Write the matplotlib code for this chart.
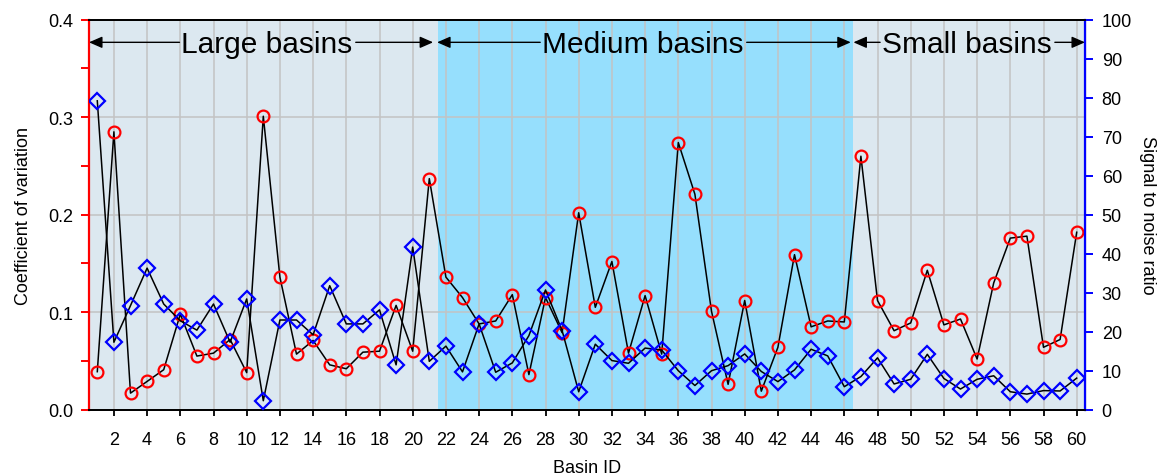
import matplotlib

matplotlib.use("Agg")

import matplotlib.pyplot as plt
from matplotlib.ticker import MultipleLocator

plt.rcParams["font.family"] = ["Liberation Sans", "DejaVu Sans"]

BASIN_ID = list(range(1, 61))
# Coefficient of variation per basin (left axis)
CV = [
    0.039, 0.285, 0.017, 0.029, 0.041, 0.098, 0.055, 0.058, 0.072, 0.038,
    0.301, 0.136, 0.057, 0.071, 0.046, 0.042, 0.059, 0.060, 0.107, 0.060,
    0.237, 0.136, 0.115, 0.088, 0.091, 0.118, 0.036, 0.115, 0.079, 0.202,
    0.105, 0.152, 0.058, 0.117, 0.057, 0.274, 0.221, 0.101, 0.026, 0.112,
    0.019, 0.064, 0.159, 0.085, 0.091, 0.090, 0.260, 0.112, 0.081, 0.089,
    0.143, 0.087, 0.093, 0.052, 0.130, 0.176, 0.178, 0.064, 0.072, 0.182,
]
# Signal to noise ratio per basin (right axis)
SNR = [
    79.2, 17.3, 26.7, 36.3, 27.1, 22.8, 20.4, 27.1, 17.3, 28.4,
    2.3, 23.0, 23.0, 19.2, 31.8, 22.0, 22.0, 25.6, 11.5, 41.7,
    12.4, 16.3, 9.7, 22.0, 9.6, 12.0, 19.0, 30.7, 20.3, 4.6,
    16.8, 12.6, 11.9, 15.8, 15.3, 10.0, 6.2, 10.0, 11.3, 14.3,
    9.8, 7.2, 10.2, 15.5, 13.8, 5.9, 8.5, 13.3, 6.6, 7.8,
    14.2, 8.0, 5.3, 7.8, 8.7, 4.6, 4.0, 4.9, 4.8, 8.1,
]
GROUP_LABELS = ["Large basins", "Medium basins", "Small basins"]
GROUP_SPANS = [(0.5, 21.5), (21.5, 46.5), (46.5, 60.5)]

# banner layout: arrow extents and label centres along the basin axis
ARROW_SPANS = [(0.5, 21.23), (21.47, 46.39), (46.55, 60.5)]
LABEL_X = [11.23, 33.87, 53.39]
PALE, BRIGHT = "#dce8f0", "#96dffd"
GROUP_COLORS = [PALE, BRIGHT, PALE]

fig = plt.figure(figsize=(11.61, 4.77), dpi=100)
ax = fig.add_axes([89 / 1161, 1 - 410.7 / 477, 996 / 1161, 390 / 477])
ax2 = ax.twinx()

for span, color in zip(GROUP_SPANS, GROUP_COLORS):
    ax.axvspan(*span, color=color, lw=0, zorder=0)

ax.set_xlim(0.5, 60.5)
ax.set_ylim(0, 0.4)
ax2.set_ylim(0, 100)

ax.xaxis.set_major_locator(MultipleLocator(2))
ax.yaxis.set_major_locator(MultipleLocator(0.1))
ax.yaxis.set_minor_locator(MultipleLocator(0.05))
ax.yaxis.set_major_formatter(lambda v, _: f"{v:.1f}")
ax2.yaxis.set_major_locator(MultipleLocator(10))
ax.grid(True, which="major", color="#c3c3c3", lw=1.1, zorder=1)
ax.set_axisbelow(True)

ax.plot(BASIN_ID, CV, color="black", lw=1.1, marker="o", ms=8.5,
        mfc="none", mec="#ff0000", mew=1.6, zorder=3)
ax2.plot(BASIN_ID, SNR, color="black", lw=1.1, marker="D", ms=8,
         mfc="none", mec="#0000ff", mew=1.6, zorder=3)

ax.spines["left"].set_color("#ff0000")
ax.spines["left"].set_linewidth(1.6)
ax2.spines["right"].set_color("#0000ff")
ax2.spines["right"].set_linewidth(1.6)
ax2.spines["left"].set_visible(False)
for side in ("top", "bottom"):
    ax.spines[side].set_linewidth(1.3)
    ax2.spines[side].set_linewidth(1.3)

ax.tick_params(axis="y", which="both", colors="#ff0000", labelcolor="black",
               length=6, width=1.4, labelsize=13, pad=5)
ax.tick_params(axis="x", length=4, width=1.3, labelsize=13, pad=11)
ax2.tick_params(axis="y", colors="#0000ff", labelcolor="black",
                length=6, width=1.4, labelsize=13, pad=6)

ax.set_xlabel("Basin ID", fontsize=13, labelpad=8)
ax.set_ylabel("Coefficient of variation", fontsize=13, labelpad=12)
ax2.set_ylabel("Signal to noise ratio", fontsize=13, rotation=270, labelpad=17)

# Banner labels sit on the baseline just under the arrow line; the arrows
# are split around each label so the gridlines show through the text.
arrow_y = 0.3768
labels = [
    ax.text(cx, arrow_y - 0.0103, label, fontsize=21.5, ha="center",
            va="baseline", zorder=5)
    for cx, label in zip(LABEL_X, GROUP_LABELS)
]
fig.canvas.draw()
renderer = fig.canvas.get_renderer()
to_data = ax.transData.inverted()
head = dict(arrowstyle="-|>,head_length=0.8,head_width=0.35", color="black",
            lw=1, shrinkA=0, shrinkB=0, mutation_scale=10)
for t, (x0, x1) in zip(labels, ARROW_SPANS):
    ext = t.get_window_extent(renderer)
    left = to_data.transform((ext.x0 - 2, 0))[0]
    right = to_data.transform((ext.x1 + 3, 0))[0]
    ax.annotate("", xy=(x0, arrow_y), xytext=(left, arrow_y),
                arrowprops=head, zorder=4)
    ax.annotate("", xy=(x1, arrow_y), xytext=(right, arrow_y),
                arrowprops=head, zorder=4)

fig.savefig("out.png", dpi=100, facecolor="white")
